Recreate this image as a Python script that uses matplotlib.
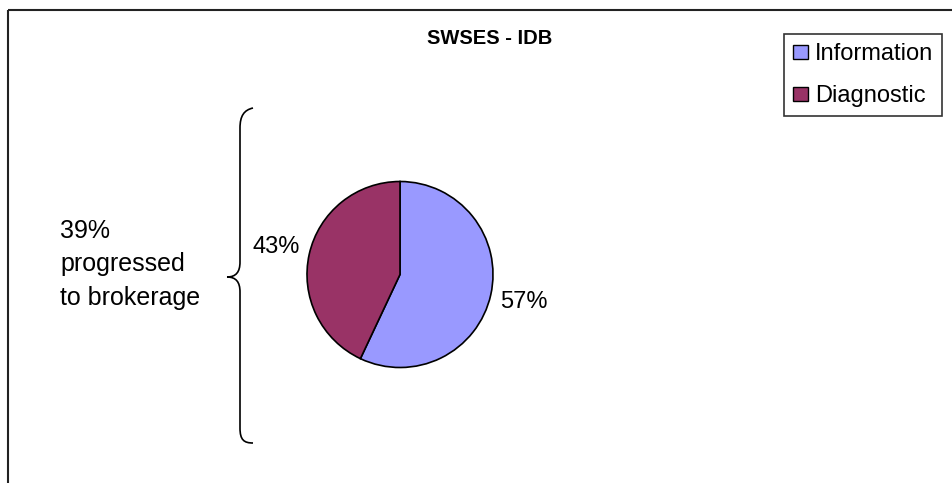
import matplotlib
matplotlib.use("Agg")
import matplotlib.pyplot as plt
from matplotlib.patches import Patch, Rectangle, PathPatch
from matplotlib.path import Path

plt.rcParams['font.family'] = ['Liberation Sans', 'DejaVu Sans']

# Data
categories = ["Information", "Diagnostic"]
shares = [57, 43]
colors = ["#9999FF", "#993366"]
title = "SWSES - IDB"
note = "39%\nprogressed\nto brokerage"

W, H = 952, 483
fig = plt.figure(figsize=(W / 100, H / 100), dpi=100)
fig.patch.set_facecolor("white")

# Overlay in pixel coordinates for frame, brace and free text
ov = fig.add_axes([0, 0, 1, 1])
ov.set_xlim(0, W)
ov.set_ylim(H, 0)
ov.axis("off")

# Chart frame (runs off the right and bottom edges)
ov.add_patch(Rectangle((7.5, 9.5), 1000, 1000, fill=False,
                       edgecolor="#222222", linewidth=1.5))

# Pie axes
cx, cy, r = 400, 274.5, 93
pax = fig.add_axes([(cx - r) / W, (H - cy - r) / H, 2 * r / W, 2 * r / H])
wedges, _, autotexts = pax.pie(
    shares, colors=colors, startangle=90, counterclock=False,
    autopct="%1.0f%%", pctdistance=1.36,
    wedgeprops=dict(edgecolor="black", linewidth=1.2),
    textprops=dict(fontsize=17, color="black"))
pax.set_xlim(-1, 1)
pax.set_ylim(-1, 1)
pax.set_aspect("auto")
pax.axis("off")
for w in wedges:
    w.set_clip_on(False)
for t in autotexts:
    t.set_clip_on(False)

# Title
ov.text(490, 38, title, ha="center", va="center", fontsize=14.5,
        fontweight="bold")

# Left note
ov.text(60, 264, note, ha="left", va="center", fontsize=18,
        linespacing=1.5)

# Curly brace
verts = [
    (253, 108), (244, 110), (240, 116), (240, 128),
    (240, 262),
    (240, 272), (236, 277), (227, 277),
    (236, 277), (240, 282), (240, 292),
    (240, 428),
    (240, 440), (244, 443), (253, 443),
]
codes = [Path.MOVETO, Path.CURVE4, Path.CURVE4, Path.CURVE4,
         Path.LINETO,
         Path.CURVE4, Path.CURVE4, Path.CURVE4,
         Path.CURVE4, Path.CURVE4, Path.CURVE4,
         Path.LINETO,
         Path.CURVE4, Path.CURVE4, Path.CURVE4]
ov.add_patch(PathPatch(Path(verts, codes), fill=False, edgecolor="black",
                       linewidth=1.2))

# Legend
handles = [Patch(facecolor=c, edgecolor="black", linewidth=1.0)
           for c in colors]
leg = fig.legend(handles, categories, loc="upper right",
                 bbox_to_anchor=(942 / W, 1 - 34 / H), borderaxespad=0,
                 fontsize=17, frameon=True, fancybox=False,
                 edgecolor="black", handlelength=0.62, handleheight=0.55,
                 handletextpad=0.3, labelspacing=0.85, borderpad=0.38)
leg.get_frame().set_linewidth(1.2)

fig.savefig("out.png", dpi=100, facecolor="white")
